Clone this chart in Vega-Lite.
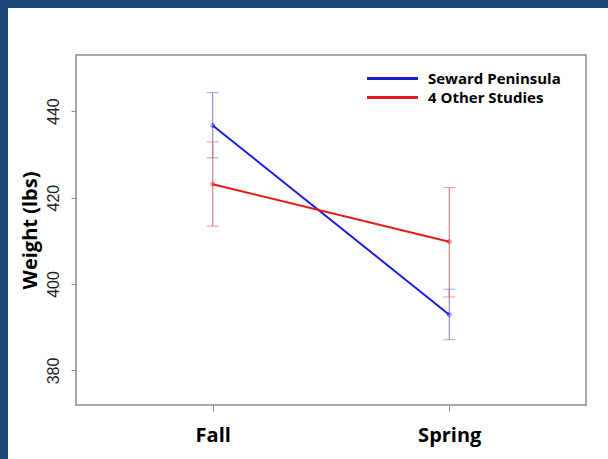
{
  "$schema": "https://vega.github.io/schema/vega-lite/v6.json",
  "background": "white",
  "padding": 0,
  "bounds": "flush",
  "spacing": 0,
  "config": {"view": {"stroke": null}},
  "datasets": {
    "weights": [
      {"season": "Fall", "group": "Seward Peninsula", "mean": 436.7, "lo": 429.2, "hi": 444.3},
      {"season": "Spring", "group": "Seward Peninsula", "mean": 392.9, "lo": 387.1, "hi": 398.8},
      {"season": "Fall", "group": "4 Other Studies", "mean": 423.1, "lo": 413.4, "hi": 432.9},
      {"season": "Spring", "group": "4 Other Studies", "mean": 409.8, "lo": 397.0, "hi": 422.3}
    ],
    "blank": [{}]
  },
  "hconcat": [
    {
      "width": 8, "height": 459,
      "view": {"fill": "#1F497D", "stroke": null},
      "data": {"name": "blank"},
      "mark": {"type": "point", "opacity": 0},
      "encoding": {}
    },
    {
      "bounds": "flush",
      "spacing": 47,
      "vconcat": [
        {
          "width": 600, "height": 8,
          "view": {"fill": "#1F497D", "stroke": null},
          "data": {"name": "blank"},
          "mark": {"type": "point", "opacity": 0},
          "encoding": {}
        },
        {
          "bounds": "flush",
          "spacing": 0,
          "hconcat": [
            {
              "width": 68, "height": 350,
              "data": {"name": "blank"},
              "mark": {"type": "point", "opacity": 0},
              "encoding": {}
            },
            {
              "width": 510, "height": 350,
              "view": {"stroke": "#8a8a8a", "strokeWidth": 1.5, "fill": null},
              "data": {"name": "weights"},
              "encoding": {
                "x": {
                  "field": "season", "type": "nominal",
                  "scale": {"type": "point", "padding": 0.578, "domain": ["Fall", "Spring"]},
                  "axis": {
                    "title": null, "labelAngle": 0, "domain": false,
                    "tickColor": "#8a8a8a", "tickSize": 6, "tickWidth": 1,
                    "labelFont": "Open Sans", "labelFontWeight": "bold", "labelFontSize": 20,
                    "labelColor": "black", "labelPadding": 14
                  }
                }
              },
              "layer": [
                {
                  "mark": {"type": "rule", "strokeWidth": 1},
                  "encoding": {
                    "y": {
                      "field": "lo", "type": "quantitative",
                      "scale": {"domain": [372, 453], "nice": false, "zero": false},
                      "axis": {
                        "values": [380, 400, 420, 440], "grid": false, "domain": false,
                        "title": "Weight (lbs)", "titleFont": "Open Sans", "titleFontWeight": "bold",
                        "titleFontSize": 20, "titleColor": "black", "titlePadding": 5,
                        "labelAngle": -90, "labelAlign": "center", "labelBaseline": "bottom",
                        "labelFont": "Liberation Sans", "labelFontSize": 16, "labelColor": "#222222",
                        "labelPadding": 10, "tickColor": "#8a8a8a", "tickSize": 5, "tickWidth": 1
                      }
                    },
                    "y2": {"field": "hi"},
                    "color": {"condition": {"test": "datum.group === 'Seward Peninsula'", "value": "#7a7ad4"}, "value": "#d46c6c"}
                  }
                },
                {
                  "mark": {"type": "tick", "size": 12, "thickness": 1},
                  "encoding": {
                    "y": {"field": "lo", "type": "quantitative"},
                    "color": {"condition": {"test": "datum.group === 'Seward Peninsula'", "value": "#7a7ad4"}, "value": "#d46c6c"}
                  }
                },
                {
                  "mark": {"type": "tick", "size": 12, "thickness": 1},
                  "encoding": {
                    "y": {"field": "hi", "type": "quantitative"},
                    "color": {"condition": {"test": "datum.group === 'Seward Peninsula'", "value": "#7a7ad4"}, "value": "#d46c6c"}
                  }
                },
                {
                  "mark": {"type": "line", "strokeWidth": 2},
                  "encoding": {
                    "y": {"field": "mean", "type": "quantitative"},
                    "color": {
                      "field": "group", "type": "nominal",
                      "scale": {"domain": ["Seward Peninsula", "4 Other Studies"], "range": ["#1c1cd4", "#e41a1a"]},
                      "legend": {
                        "orient": "none", "legendX": 385, "legendY": 71, "title": null,
                        "symbolType": "M-5,0H5", "symbolSize": 104, "symbolStrokeWidth": 3,
                        "labelFont": "Open Sans", "labelFontWeight": "bold", "labelFontSize": 15,
                        "labelColor": "black", "labelOffset": 28, "rowPadding": 3
                      }
                    }
                  }
                },
                {
                  "mark": {"type": "point", "filled": false, "size": 14, "strokeWidth": 1},
                  "encoding": {
                    "y": {"field": "mean", "type": "quantitative"},
                    "color": {"condition": {"test": "datum.group === 'Seward Peninsula'", "value": "#1c1cd4"}, "value": "#e41a1a"}
                  }
                }
              ]
            }
          ]
        }
      ]
    }
  ]
}
